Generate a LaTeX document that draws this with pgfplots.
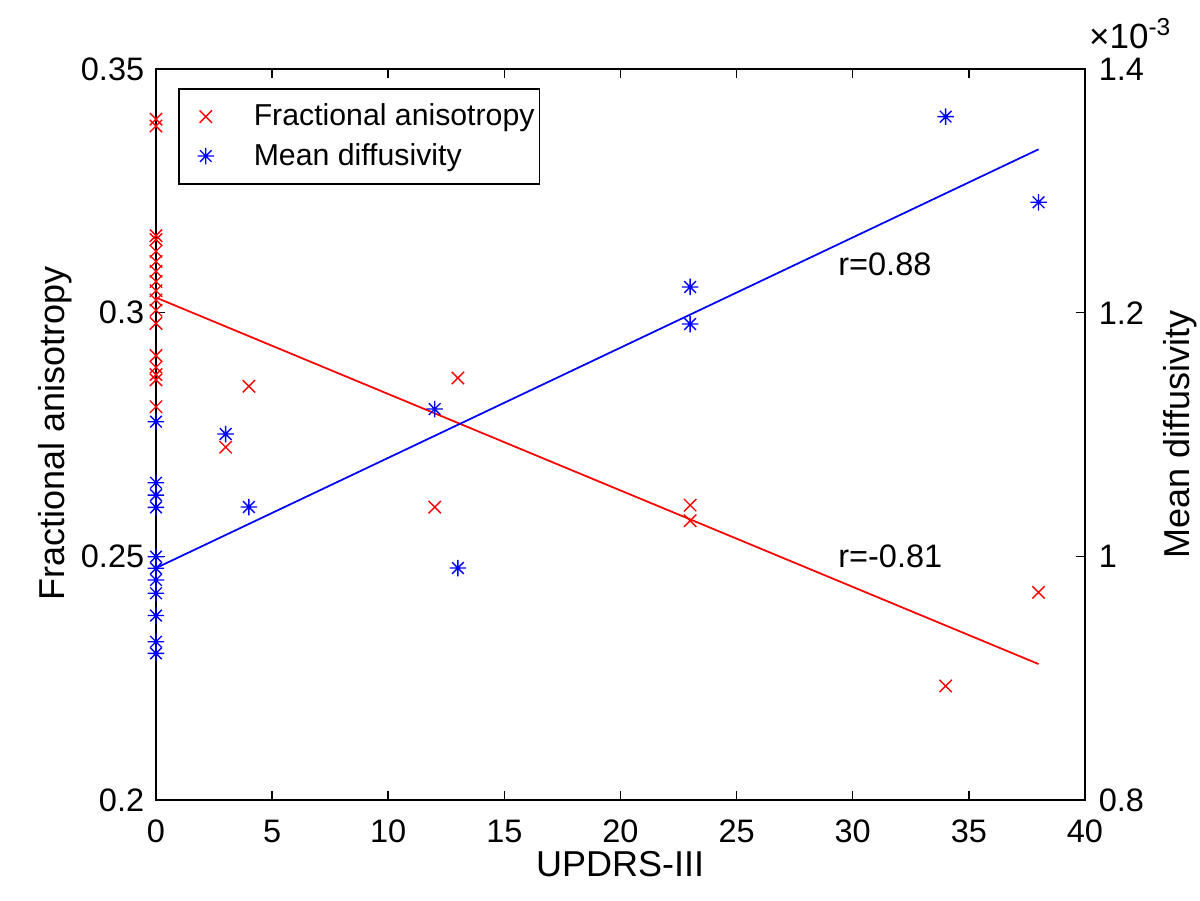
\documentclass[border=0pt]{standalone}
\usepackage{pgfplots}
\pgfplotsset{compat=1.18}
\usepackage{fontspec}
\setmainfont{Liberation Sans}
\pgfdeclareplotmark{mstar}{%
 \pgfpathmoveto{\pgfqpoint{-\pgfplotmarksize}{0pt}}\pgfpathlineto{\pgfqpoint{\pgfplotmarksize}{0pt}}%
 \pgfpathmoveto{\pgfqpoint{0pt}{-\pgfplotmarksize}}\pgfpathlineto{\pgfqpoint{0pt}{\pgfplotmarksize}}%
 \pgfpathmoveto{\pgfqpoint{-0.7071\pgfplotmarksize}{-0.7071\pgfplotmarksize}}\pgfpathlineto{\pgfqpoint{0.7071\pgfplotmarksize}{0.7071\pgfplotmarksize}}%
 \pgfpathmoveto{\pgfqpoint{-0.7071\pgfplotmarksize}{0.7071\pgfplotmarksize}}\pgfpathlineto{\pgfqpoint{0.7071\pgfplotmarksize}{-0.7071\pgfplotmarksize}}%
 \pgfusepathqstroke}
\definecolor{mred}{rgb}{1,0,0}
\definecolor{mblue}{rgb}{0,0,1}
\begin{document}
\begin{tikzpicture}
\useasboundingbox (-62.4pt,-40pt) rectangle (417.6pt,320pt);
\pgfplotsset{
  common/.style={
    scale only axis, width=371.6pt, height=292.4pt,
    at={(0,0)}, anchor=south west,
    xmin=0, xmax=40, clip=false,
    axis line style={line width=0.6pt, black},
    major tick length=3.6pt,
    every tick/.style={line width=0.6pt, black},
    tick align=inside,
    /pgf/number format/assume math mode=true,
    tick label style={font=\fontsize{13}{15}\selectfont},
  }
}
\begin{axis}[common,
  ymin=0.2, ymax=0.35,
  ytick={0.2,0.25,0.3,0.35},
  xtick={0,5,...,40},
  xtick pos=both, ytick pos=left,
  yticklabel style={/pgf/number format/fixed, /pgf/number format/precision=2, xshift=-1.2pt},
  xticklabel style={yshift=-4.5pt},
  xlabel={UPDRS-III}, ylabel={Fractional anisotropy},
  every axis x label/.style={at={(axis description cs:0.4995,-0.0875)}, anchor=center, font=\fontsize{14.4}{17}\selectfont},
  every axis y label/.style={at={(axis description cs:-0.1087,0.502)}, rotate=90, anchor=center, font=\fontsize{14.4}{17}\selectfont},
]
\addplot[only marks, mark=x, mark size=3.5pt, mred, mark options={line width=0.55pt}] coordinates {
(0,0.3397) (0,0.3383) (0,0.3158) (0,0.3150) (0,0.3126) (0,0.3105) (0,0.3085) (0,0.3064)
(0,0.3045) (0,0.3026) (0,0.3005) (0,0.2978) (0,0.2912) (0,0.2888) (0,0.2873) (0,0.2862) (0,0.2807)
(3,0.2724) (4,0.2849) (12,0.2601) (13,0.2866) (23,0.2605) (23,0.2573) (34,0.2234) (38,0.2426)
};
\addplot[mred, line width=0.7pt, no marks] coordinates {(0,0.3031) (38,0.2279)};
\node[anchor=west, font=\fontsize{13}{15}\selectfont] at (axis cs:29,0.31) {r=0.88};
\node[anchor=west, font=\fontsize{13}{15}\selectfont] at (axis cs:29,0.25) {r=-0.81};
\end{axis}
\begin{axis}[common,
  ymin=0.8, ymax=1.4,
  ytick={0.8,1,1.2,1.4},
  axis x line=none,
  axis y line*=right,
  ytick pos=right,
  yticklabel style={/pgf/number format/fixed, /pgf/number format/precision=1, xshift=2pt},
  ylabel={Mean diffusivity},
  every axis y label/.style={at={(axis description cs:1.102,0.5)}, rotate=90, anchor=center, font=\fontsize{14.4}{17}\selectfont},
  legend style={at={(axis description cs:0.0237,0.974)}, anchor=north west,
    font=\fontsize{12.1}{14}\selectfont, draw=black, line width=0.6pt, fill=white,
    inner xsep=0pt, inner ysep=4pt, row sep=1.5pt},
  legend cell align=left,
  legend image code/.code={\path[draw=none,fill=none] (0pt,0pt) -- (28pt,0pt); \draw[#1, only marks] plot coordinates {(10.8pt,0pt)};},
]
\addlegendimage{only marks, mark=x, mark size=3.5pt, mred, mark options={line width=0.55pt}}
\addlegendentry{Fractional anisotropy}
\addplot[only marks, mark=mstar, mark size=3.3pt, mblue, mark options={line width=0.55pt}] coordinates {
(0,1.1105) (0,1.0604) (0,1.0503) (0,1.0402) (0,0.9997) (0,0.9902) (0,0.9806) (0,0.9697)
(0,0.9514) (0,0.9299) (0,0.9204)
(3,1.1004) (4,1.0405) (12,1.1209) (13,0.9904) (23,1.2211) (23,1.1907) (34,1.3609) (38,1.2906)
};
\addlegendentry{Mean diffusivity}
\addplot[mblue, line width=0.7pt, no marks, forget plot] coordinates {(0,0.9904) (38,1.3341)};
\node[anchor=south west, inner sep=0pt, font=\fontsize{14}{16}\selectfont] at (axis description cs:1.004,1.027) {×10\textsuperscript{-3}};
\end{axis}
\end{tikzpicture}
\end{document}
